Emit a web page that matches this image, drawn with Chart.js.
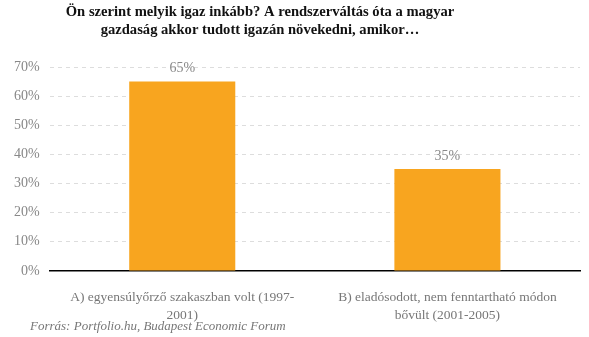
<!DOCTYPE html>
<html>
<head>
<meta charset="utf-8">
<script src="https://cdn.jsdelivr.net/npm/chart.js@4"></script>
<style>
  html, body { margin: 0; padding: 0; background: #fff; }
  #wrap { position: relative; width: 589px; height: 337px; }
  #forras {
    position: absolute; left: 30px; top: 318px;
    font: italic 13px "Liberation Serif", serif; color: #777;
  }
</style>
</head>
<body>
<div id="wrap">
  <canvas id="grafikon" width="589" height="337"></canvas>
  <div id="forras">Forrás: Portfolio.hu, Budapest Economic Forum</div>
</div>
<script>
// Adatok
const kategoriak = [
    ['A) egyensúlyőrző szakaszban volt (1997-', '2001)'],
    ['B) eladósodott, nem fenntartható módon', 'bővült (2001-2005)']
];
const ertekek = [65, 35];
const cim = [
    'Ön szerint melyik igaz inkább? A rendszerváltás óta a magyar',
    'gazdaság akkor tudott igazán növekedni, amikor…'
];

const BETU = '"Liberation Serif", serif';

// Cím kirajzolása (kicsit balra a középtől, mint az eredetin)
const cimPlugin = {
    id: 'cim',
    afterDraw(chart) {
        const ctx = chart.ctx;
        ctx.save();
        ctx.font = 'bold 14.6px ' + BETU;
        ctx.fillStyle = '#111';
        ctx.textAlign = 'center';
        ctx.textBaseline = 'middle';
        cim.forEach((sor, i) => {
            ctx.fillText(sor, 260, 12 + i * 18);
        });
        ctx.restore();
    }
};

// Értékcímkék a bárok fölé
const cimkePlugin = {
    id: 'cimkek',
    afterDatasetsDraw(chart) {
        const ctx = chart.ctx;
        const meta = chart.getDatasetMeta(0);
        ctx.save();
        ctx.font = '14px ' + BETU;
        ctx.fillStyle = '#888';
        ctx.textAlign = 'center';
        ctx.textBaseline = 'bottom';
        meta.data.forEach((bar, i) => {
            ctx.fillText(ertekek[i] + '%', bar.x, bar.y - 6);
        });
        ctx.restore();
    }
};

new Chart(document.getElementById('grafikon').getContext('2d'), {
    type: 'bar',
    data: {
        labels: kategoriak,
        datasets: [{
            data: ertekek,
            backgroundColor: '#F8A51F',
            barPercentage: 0.4,
            categoryPercentage: 1
        }]
    },
    options: {
        responsive: false,
        animation: false,
        layout: { padding: { left: 4, right: 9, top: 67, bottom: -5 } },
        plugins: {
            legend: { display: false },
            tooltip: { enabled: false },
            title: { display: false }
        },
        scales: {
            x: {
                grid: { display: false, drawTicks: false },
                border: { color: '#000', width: 1.5 },
                ticks: {
                    color: '#777',
                    font: { family: BETU, size: 13.5, lineHeight: 1.3 },
                    padding: 18,
                    maxRotation: 0
                }
            },
            y: {
                min: 0,
                max: 70,
                ticks: {
                    stepSize: 10,
                    color: '#888',
                    font: { family: BETU, size: 14 },
                    padding: 10,
                    callback: v => v + '%'
                },
                grid: { color: '#ddd', drawTicks: false },
                border: { display: false, dash: [4, 4] }
            }
        }
    },
    plugins: [cimPlugin, cimkePlugin]
});
</script>
</body>
</html>
